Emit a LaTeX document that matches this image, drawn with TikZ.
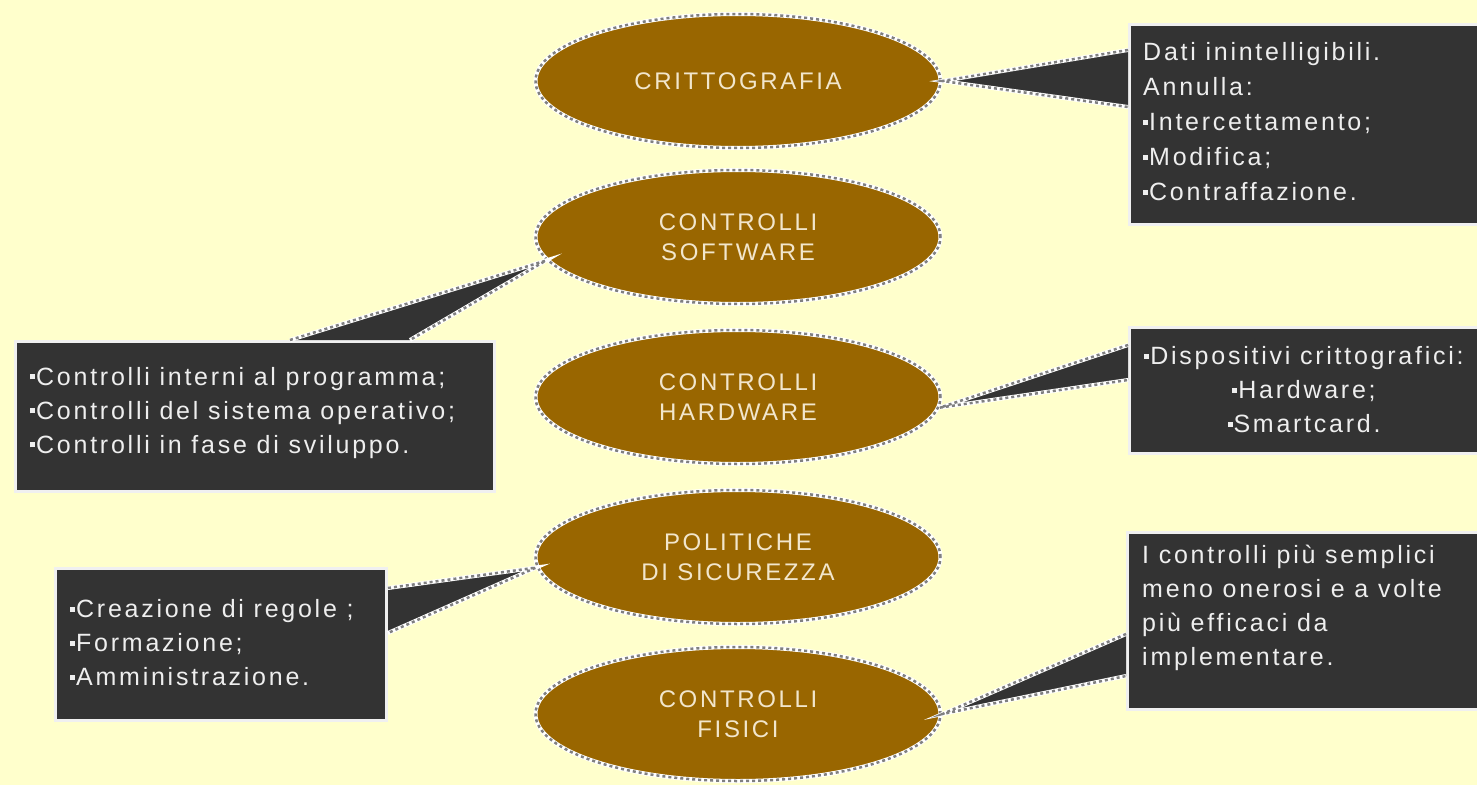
\documentclass[tikz,border=0pt]{standalone}
\usepackage{fontspec}
\setmainfont{Liberation Sans}[LetterSpace=11]
\usetikzlibrary{calc,shapes.geometric}
\definecolor{paper}{HTML}{FFFFCC}
\definecolor{bronze}{HTML}{996600}
\definecolor{slate}{HTML}{333333}
\definecolor{ink}{HTML}{EEEEEE}
\definecolor{cream}{HTML}{F2E6CC}
% small square bullet
\newcommand\sqb{\rule[6pt]{5pt}{5pt}\kern1pt}
\tikzset{
  oval/.style={ellipse, fill=bronze, minimum width=405pt, minimum height=134pt,
    inner sep=0pt, text=cream, align=center, font=\fontsize{24}{30}\selectfont,
    draw=white, line width=4pt,
    postaction={draw=gray, line width=2.5pt, dash pattern=on 3pt off 3pt}},
  panel/.style={rectangle, fill=slate, draw=white!88!gray, line width=3pt,
    anchor=north west, inner sep=0pt},
  note/.style={text=ink, align=left, font=\fontsize{25}{34}\selectfont, inner sep=0pt},
  seam/.style={draw=white, line width=4pt,
    postaction={draw=gray, line width=2.5pt, dash pattern=on 3pt off 3pt}},
}
\begin{document}
\begin{tikzpicture}[x=1pt,y=-1pt]
  \useasboundingbox (0,0) rectangle (1477,784);
  \clip (0,0) rectangle (1477,784);
  \fill[paper] (-10,-10) rectangle (1487,794);

  % the five security measures
  \node[oval] (e1) at (738,81)  {CRITTOGRAFIA};
  \node[oval] (e2) at (738,237) {CONTROLLI\\SOFTWARE};
  \node[oval] (e3) at (738,397) {CONTROLLI\\HARDWARE};
  \node[oval] (e4) at (738,557) {POLITICHE\\DI SICUREZZA};
  \node[oval] (e5) at (738,714) {CONTROLLI\\FISICI};

  % callout panels
  \node[panel, minimum width=400pt, minimum height=200pt] (b1) at (1128,23) {};
  \node[panel, minimum width=479pt, minimum height=150pt] (b2) at (14,340) {};
  \node[panel, minimum width=400pt, minimum height=126pt] (b3) at (1128,326) {};
  \node[panel, minimum width=331pt, minimum height=152pt] (b4) at (54,567) {};
  \node[panel, minimum width=400pt, minimum height=177pt] (b5) at (1126,531) {};

  % pointers from each panel to its measure
  \fill[slate] ($(b1.north west)+(0,27)$) -- (e1.east) -- ($(b1.north west)+(0,84)$) -- cycle;
  \draw[seam]  ($(b1.north west)+(0,27)$) -- (e1.east) -- ($(b1.north west)+(0,84)$);

  \fill[slate] ($(b2.north west)+(276,0)$) -- (e2.187) -- ($(b2.north west)+(396,0)$) -- cycle;
  \draw[seam]  ($(b2.north west)+(276,0)$) -- (e2.187) -- ($(b2.north west)+(396,0)$);

  \fill[slate] ($(b3.north west)+(0,19)$) -- (e3.357) -- ($(b3.north west)+(0,54)$) -- cycle;
  \draw[seam]  ($(b3.north west)+(0,19)$) -- (e3.357) -- ($(b3.north west)+(0,54)$);

  \fill[slate] ($(b4.north east)+(0,21)$) -- (e4.183) -- ($(b4.north east)+(0,66)$) -- cycle;
  \draw[seam]  ($(b4.north east)+(0,21)$) -- (e4.183) -- ($(b4.north east)+(0,66)$);

  \fill[slate] ($(b5.north west)+(0,103)$) -- (e5.east) -- ($(b5.north west)+(0,145)$) -- cycle;
  \draw[seam]  ($(b5.north west)+(0,103)$) -- (e5.east) -- ($(b5.north west)+(0,145)$);

  % panel texts
  \node[note, anchor=west, font=\fontsize{25}{35}\selectfont] (t1) at (1143,122)
    {Dati inintelligibili.\\Annulla:\\\sqb Intercettamento;\\\sqb Modifica;\\\sqb Contraffazione.};
  \node[note, anchor=west] (t2) at (30,413)
    {\sqb Controlli interni al programma;\\\sqb Controlli del sistema operativo;\\\sqb Controlli in fase di sviluppo.};
  \node[note, align=center] (t3) at (1304,390)
    {\sqb Dispositivi crittografici:\\\sqb Hardware;\\\sqb Smartcard.};
  \node[note, anchor=west] (t4) at (70,643)
    {\sqb Creazione di regole ;\\\sqb Formazione;\\\sqb Amministrazione.};
  \node[note, anchor=west] (t5) at (1142,608)
    {I controlli più semplici\\meno onerosi e a volte\\più efficaci da\\implementare.};
\end{tikzpicture}
\end{document}
